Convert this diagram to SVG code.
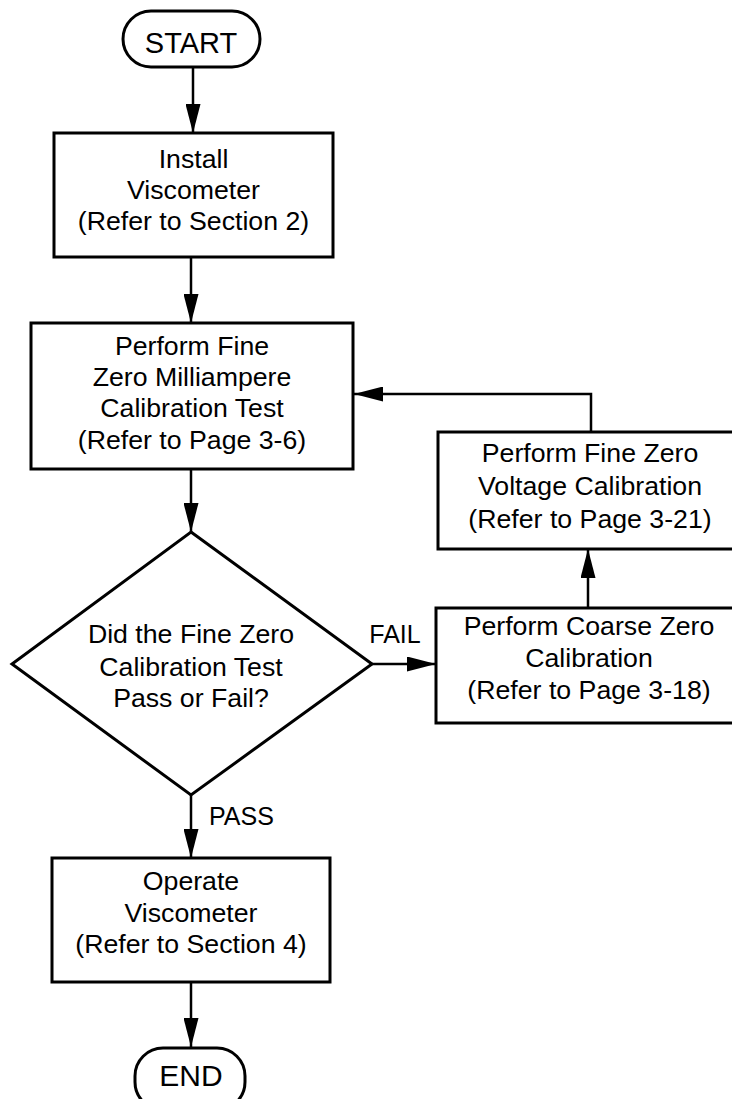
<svg xmlns="http://www.w3.org/2000/svg" width="732" height="1099" viewBox="0 0 732 1099">
<style>
.box{fill:#fff;stroke:#000;stroke-width:3}
.ln{fill:none;stroke:#000;stroke-width:2.5}
text{font-family:"Liberation Sans",Arial,sans-serif;font-size:26.7px;fill:#000;text-anchor:middle}
.term{font-size:29px}
.lbl{font-size:25px}
</style>
<defs>
<marker id="ah" viewBox="0 0 29 15" refX="29" refY="7.5" markerWidth="29" markerHeight="15" orient="auto" markerUnits="userSpaceOnUse">
<path d="M0,0 L29,7.5 L0,15 z" fill="#000"/>
</marker>
</defs>
<g id="connectors">
<line class="ln" x1="193" y1="67" x2="193" y2="133" marker-end="url(#ah)"/>
<line class="ln" x1="191" y1="257" x2="191" y2="323" marker-end="url(#ah)"/>
<line class="ln" x1="191" y1="469" x2="191" y2="532" marker-end="url(#ah)"/>
<line class="ln" x1="372" y1="664" x2="436" y2="664" marker-end="url(#ah)"/>
<line class="ln" x1="588" y1="608" x2="588" y2="549" marker-end="url(#ah)"/>
<polyline class="ln" points="591,432 591,394 354,394" marker-end="url(#ah)"/>
<line class="ln" x1="191" y1="795" x2="191" y2="858" marker-end="url(#ah)"/>
<line class="ln" x1="191" y1="982" x2="191" y2="1047" marker-end="url(#ah)"/>
<text class="lbl" x="395" y="643">FAIL</text>
<text class="lbl" x="209" y="825" style="text-anchor:start">PASS</text>
</g>
<g id="start">
<rect class="box" x="123" y="11" width="137" height="56" rx="28"/>
<text class="term" x="191" y="53">START</text>
</g>
<g id="install">
<rect class="box" x="54" y="133" width="279" height="124"/>
<text x="193.5" y="168">Install</text>
<text x="193.5" y="199">Viscometer</text>
<text x="193.5" y="230">(Refer to Section 2)</text>
</g>
<g id="fineZeroMa">
<rect class="box" x="31" y="323" width="322" height="146"/>
<text x="192" y="355">Perform Fine</text>
<text x="192" y="386">Zero Milliampere</text>
<text x="192" y="417">Calibration Test</text>
<text x="192" y="449">(Refer to Page 3-6)</text>
</g>
<g id="decision">
<polygon class="box" points="191,532 372,664 191,795 12,664"/>
<text x="191" y="643">Did the Fine Zero</text>
<text x="191" y="675.5">Calibration Test</text>
<text x="191" y="707">Pass or Fail?</text>
</g>
<g id="coarse">
<rect class="box" x="436" y="608" width="310" height="115"/>
<text x="589" y="635">Perform Coarse Zero</text>
<text x="589" y="667">Calibration</text>
<text x="589" y="699">(Refer to Page 3-18)</text>
</g>
<g id="fineZeroV">
<rect class="box" x="438" y="432" width="308" height="117"/>
<text x="590" y="462">Perform Fine Zero</text>
<text x="590" y="495">Voltage Calibration</text>
<text x="590" y="528">(Refer to Page 3-21)</text>
</g>
<g id="operate">
<rect class="box" x="52" y="858" width="278" height="124"/>
<text x="191" y="890">Operate</text>
<text x="191" y="922">Viscometer</text>
<text x="191" y="953">(Refer to Section 4)</text>
</g>
<g id="end">
<rect class="box" x="135" y="1048" width="110" height="62" rx="28"/>
<text class="term" x="191" y="1086" style="font-size:30px">END</text>
</g>
</svg>
